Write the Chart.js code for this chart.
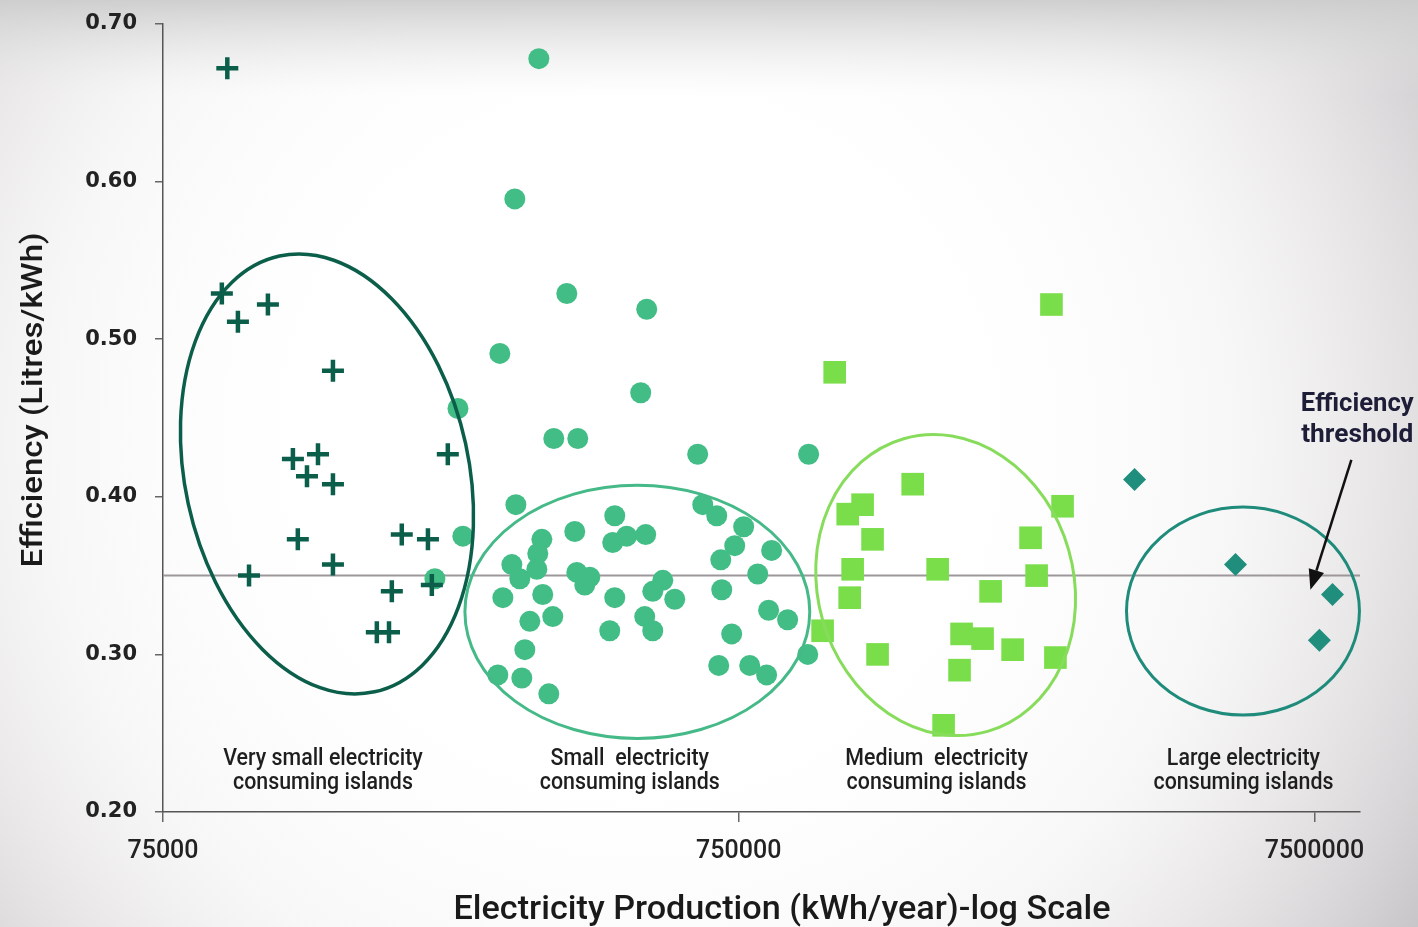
<!DOCTYPE html>
<html>
<head>
<meta charset="utf-8">
<script src="https://cdn.jsdelivr.net/npm/chart.js@4.4.1/dist/chart.umd.min.js"></script>
<style>
  html, body { margin: 0; padding: 0; background: #ffffff; overflow: hidden; }
  #wrap { position: relative; width: 1418px; height: 927px; }
</style>
</head>
<body>
<div id="wrap"><canvas id="c" width="1418" height="927"></canvas></div>
<script>
// Annual electricity production (kWh/year) and fuel efficiency (litres/kWh) per island group
const verySmallProduction = [97000, 94900, 101200, 114100, 148000, 126100, 139400, 133400, 148000, 234300,
  128600, 194900, 216400, 148000, 105800, 187300, 219800, 176400, 185200];
const verySmallEfficiency = [0.672, 0.529, 0.511, 0.522, 0.480, 0.424, 0.427, 0.413, 0.408, 0.427,
  0.373, 0.376, 0.373, 0.357, 0.350, 0.340, 0.344, 0.314, 0.314];

const smallProduction = [337200, 306300, 377100, 519100, 288500, 506800, 244000, 358000, 394000, 636500,
  992000, 307600, 248800, 222500, 389300, 456800, 453100, 479200, 341300, 335800,
  334500, 302700, 312500, 392500, 413400, 405200, 292000, 342500, 356500, 325300,
  318800, 286200, 315000, 350900, 456800, 447800, 517000, 553600, 531800, 580700,
  515000, 531800, 649500, 686900, 765000, 738100, 698000, 855500, 809200, 700800,
  845300, 912000, 729200, 692400, 783800, 838500, 988500];
const smallEfficiency = [0.678, 0.589, 0.529, 0.519, 0.491, 0.466, 0.456, 0.437, 0.437, 0.427,
  0.427, 0.395, 0.375, 0.348, 0.378, 0.388, 0.371, 0.375, 0.373, 0.364,
  0.354, 0.357, 0.348, 0.352, 0.349, 0.344, 0.336, 0.338, 0.324, 0.321,
  0.303, 0.287, 0.285, 0.275, 0.336, 0.315, 0.376, 0.347, 0.340, 0.335,
  0.324, 0.315, 0.395, 0.388, 0.381, 0.369, 0.360, 0.366, 0.351, 0.341,
  0.328, 0.322, 0.313, 0.293, 0.293, 0.287, 0.300];

const mediumProduction = [2620000, 1101000, 1504000, 1231000, 1160000, 1281000, 2739000, 2410000, 1183000, 1662000,
  2469000, 1169000, 2054000, 1049000, 1829000, 1989000, 2243000, 2662000, 1307000, 1814000, 1702000];
const mediumEfficiency = [0.522, 0.479, 0.408, 0.395, 0.389, 0.373, 0.394, 0.374, 0.354, 0.354,
  0.350, 0.336, 0.340, 0.315, 0.313, 0.310, 0.303, 0.298, 0.300, 0.290, 0.255];

const largeProduction = [3653000, 5470000, 8063000, 7651000];
const largeEfficiency = [0.411, 0.357, 0.338, 0.309];

const thresholdEfficiency = 0.35;

const productionRange = [75000, 9000000];
const productionTicks = [75000, 750000, 7500000];
const efficiencyRange = [0.2, 0.7];
const efficiencyStep = 0.1;

const groupNames = [
  ['Very small electricity', 'consuming islands'],
  ['Small  electricity', 'consuming islands'],
  ['Medium  electricity', 'consuming islands'],
  ['Large electricity', 'consuming islands']
];

const xTitle = 'Electricity Production (kWh/year)-log Scale';
const yTitle = 'Efficiency (Litres/kWh)';
const thresholdNote = ['Efficiency', 'threshold'];

// Outline of each group: centre in data units, half-width in decades, half-height in litres/kWh
const groupOutlines = [
  { cx: 144500, cy: 0.4145, rxDec: 0.2465, ry: 0.1415, rot: -12.3, color: '#0b5e49', width: 3.5 },
  { cx: 500000, cy: 0.327, rxDec: 0.2995, ry: 0.0803, rot: 0, color: '#45b987', width: 3 },
  { cx: 1716000, cy: 0.344, rxDec: 0.2222, ry: 0.0966, rot: -16, color: '#88dc5c', width: 3 },
  { cx: 5636000, cy: 0.3275, rxDec: 0.2023, ry: 0.066, rot: 0, color: '#1f8b7b', width: 3 }
];
const groupLabelAnchors = [142200, 485100, 1655000, 5647000];
const groupLabelRows = [0.2336, 0.2184];

const toPoints = (xs, ys) => xs.map((x, i) => ({ x, y: ys[i] }));

// Draws text squeezed or stretched along its baseline to a given width
function fitText(c, text, x, y, width) {
  const w = c.measureText(text).width;
  c.save();
  c.translate(x, y);
  c.scale(width / w, 1);
  c.fillText(text, 0, 0);
  c.restore();
}

const backdrop = {
  id: 'backdrop',
  beforeDraw(chart) {
    const c = chart.ctx, w = chart.width, h = chart.height;
    c.save();
    c.fillStyle = '#ffffff';
    c.fillRect(0, 0, w, h);
    const rg = c.createRadialGradient(640, 440, 260, 640, 440, 1000);
    rg.addColorStop(0, 'rgba(255,255,255,0)');
    rg.addColorStop(0.45, 'rgba(232,229,230,0.3)');
    rg.addColorStop(1, 'rgba(172,169,172,0.9)');
    c.fillStyle = rg;
    c.fillRect(0, 0, w, h);
    const tg = c.createLinearGradient(0, 0, 0, 95);
    tg.addColorStop(0, 'rgba(205,205,205,0.95)');
    tg.addColorStop(1, 'rgba(235,235,235,0)');
    c.fillStyle = tg;
    c.fillRect(0, 0, w, 95);
    c.restore();
  }
};

const overlays = {
  id: 'overlays',
  afterDatasetsDraw(chart) {
    const c = chart.ctx;
    const xs = chart.scales.x, ys = chart.scales.y;
    c.save();
    // group outlines
    groupOutlines.forEach(g => {
      const X = xs.getPixelForValue(g.cx);
      const Y = ys.getPixelForValue(g.cy);
      const rx = xs.getPixelForValue(g.cx * Math.pow(10, g.rxDec)) - X;
      const ry = Y - ys.getPixelForValue(g.cy + g.ry);
      c.beginPath();
      c.ellipse(X, Y, rx, ry, g.rot * Math.PI / 180, 0, Math.PI * 2);
      c.strokeStyle = g.color;
      c.lineWidth = g.width;
      c.stroke();
    });
    // group captions
    c.fillStyle = '#1e1e1e';
    c.font = '500 23px Roboto';
    c.textAlign = 'center';
    c.textBaseline = 'middle';
    groupNames.forEach((lines, i) => {
      const X = xs.getPixelForValue(groupLabelAnchors[i]);
      lines.forEach((t, j) => {
        const w = c.measureText(t).width;
        fitText(c, t, X, ys.getPixelForValue(groupLabelRows[j]), w * 0.93);
      });
    });
    // threshold note and arrow
    const nx = xs.getPixelForValue(8900000);
    c.fillStyle = '#1d1d38';
    c.font = 'bold 25px Roboto';
    fitText(c, thresholdNote[0], nx, ys.getPixelForValue(0.4582), 113);
    fitText(c, thresholdNote[1], nx, ys.getPixelForValue(0.4386), 112);
    const tx = xs.getPixelForValue(8694000), ty = ys.getPixelForValue(0.4234);
    const hx = xs.getPixelForValue(7380000), hy = ys.getPixelForValue(0.341);
    const ang = Math.atan2(hy - ty, hx - tx);
    const hl = 20, hw = 8;
    const bx = hx - Math.cos(ang) * hl, by = hy - Math.sin(ang) * hl;
    c.strokeStyle = '#111';
    c.lineWidth = 2.5;
    c.beginPath();
    c.moveTo(tx, ty);
    c.lineTo(bx, by);
    c.stroke();
    c.fillStyle = '#111';
    c.beginPath();
    c.moveTo(hx, hy);
    c.lineTo(bx + Math.sin(ang) * hw, by - Math.cos(ang) * hw);
    c.lineTo(bx - Math.sin(ang) * hw, by + Math.cos(ang) * hw);
    c.closePath();
    c.fill();
    c.restore();
  },
  afterDraw(chart) {
    const c = chart.ctx;
    c.save();
    c.fillStyle = '#1a1a1a';
    c.textAlign = 'center';
    c.textBaseline = 'middle';
    c.font = '500 34px Roboto';
    fitText(c, xTitle, 782, 910, 657);
    c.translate(35, 400);
    c.rotate(-Math.PI / 2);
    c.font = '500 29px Roboto';
    fitText(c, yTitle, 0, 0, 335);
    c.restore();
  }
};

new Chart(document.getElementById('c'), {
  type: 'scatter',
  data: {
    datasets: [
      {
        type: 'line',
        label: 'threshold',
        data: [{ x: productionRange[0], y: thresholdEfficiency }, { x: productionRange[1], y: thresholdEfficiency }],
        borderColor: '#9d979b',
        borderWidth: 2,
        pointRadius: 0,
        order: 10
      },
      {
        label: 'Very small',
        data: toPoints(verySmallProduction, verySmallEfficiency),
        pointStyle: 'cross',
        pointRadius: 11,
        borderColor: '#0b5e49',
        borderWidth: 4.5,
        order: 1
      },
      {
        label: 'Small',
        data: toPoints(smallProduction, smallEfficiency),
        pointStyle: 'circle',
        pointRadius: 10.5,
        backgroundColor: '#41bd85',
        borderWidth: 0,
        order: 2
      },
      {
        label: 'Medium',
        data: toPoints(mediumProduction, mediumEfficiency),
        pointStyle: 'rect',
        pointRadius: 16,
        backgroundColor: '#7ade4b',
        borderWidth: 0,
        order: 2
      },
      {
        label: 'Large',
        data: toPoints(largeProduction, largeEfficiency),
        pointStyle: 'rectRot',
        pointRadius: 11.5,
        backgroundColor: '#1f8e7d',
        borderWidth: 0,
        order: 2
      }
    ]
  },
  options: {
    responsive: false,
    animation: false,
    devicePixelRatio: 1,
    layout: { padding: { left: 0, right: 58, top: 24, bottom: 0 } },
    plugins: { legend: { display: false }, tooltip: { enabled: false } },
    scales: {
      x: {
        type: 'logarithmic',
        min: productionRange[0],
        max: productionRange[1],
        afterBuildTicks: s => { s.ticks = productionTicks.map(v => ({ value: v })); },
        afterFit: s => { s.height = 115; s.paddingLeft = 0; s.paddingRight = 0; },
        ticks: {
          callback: v => String(v),
          font: { family: 'Roboto', size: 25, weight: '500' },
          color: '#222',
          padding: 15,
          maxRotation: 0,
          autoSkip: false
        },
        grid: { drawOnChartArea: false, drawTicks: true, tickLength: 10, color: '#666', lineWidth: 1.5 },
        border: { color: '#555', width: 1.5 }
      },
      y: {
        min: efficiencyRange[0],
        max: efficiencyRange[1],
        afterFit: s => { s.width = 163; s.paddingTop = 0; s.paddingBottom = 0; },
        ticks: {
          stepSize: efficiencyStep,
          callback: v => Number(v).toFixed(2),
          font: { family: 'DejaVu Sans', size: 21, weight: 'bold' },
          color: '#222',
          padding: 18
        },
        grid: { drawOnChartArea: false, drawTicks: true, tickLength: 8, color: '#666', lineWidth: 1.5 },
        border: { color: '#555', width: 1.5 }
      }
    }
  },
  plugins: [backdrop, overlays]
});
</script>
</body>
</html>
